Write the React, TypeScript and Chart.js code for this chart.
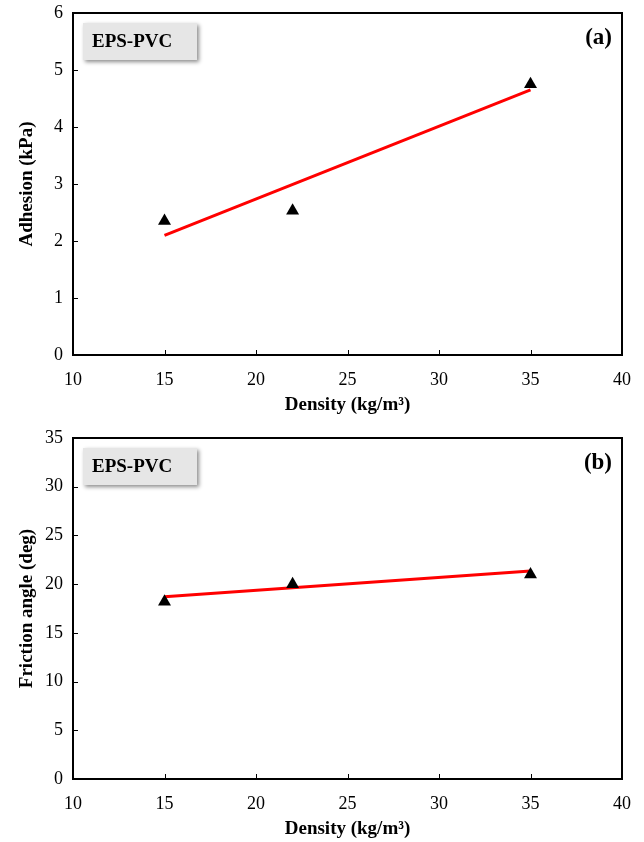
import React, { useEffect, useRef } from "react";
import { Chart, registerables } from "chart.js";

Chart.register(...registerables);

const densities = [15, 22, 35];
const adhesion = [2.35, 2.53, 4.75];
const frictionAngle = [18.2, 20.0, 21.0];
const fitX = [15, 35];
const adhesionFit = [2.1, 4.65];
const frictionFit = [18.7, 21.35];
const xTicks = [10, 15, 20, 25, 30, 35, 40];
const adhesionTicks = [0, 1, 2, 3, 4, 5, 6];
const frictionTicks = [0, 5, 10, 15, 20, 25, 30, 35];

const SERIF = "'Liberation Serif', 'Times New Roman', serif";

const framePlugin = {
  id: "frame",
  afterDraw(chart: any) {
    const { ctx, chartArea } = chart;
    const opts = chart.options.plugins.frame || {};
    ctx.save();
    // inside tick marks
    ctx.strokeStyle = "#000";
    ctx.lineWidth = 1;
    const xs = chart.scales.x;
    const ys = chart.scales.y;
    xs.ticks.forEach((t: any) => {
      const px = Math.round(xs.getPixelForValue(t.value)) + 0.5;
      ctx.beginPath();
      ctx.moveTo(px, chartArea.bottom);
      ctx.lineTo(px, chartArea.bottom - 5);
      ctx.stroke();
    });
    ys.ticks.forEach((t: any) => {
      const py = Math.round(ys.getPixelForValue(t.value)) + 0.5;
      ctx.beginPath();
      ctx.moveTo(chartArea.left, py);
      ctx.lineTo(chartArea.left + 5, py);
      ctx.stroke();
    });
    // frame
    ctx.lineWidth = 2;
    ctx.strokeRect(
      chartArea.left,
      chartArea.top,
      chartArea.right - chartArea.left,
      chartArea.bottom - chartArea.top
    );
    // legend-like label box
    const bx = chartArea.left + 10;
    const by = chartArea.top + 10;
    const bw = 114;
    const bh = 37;
    ctx.save();
    ctx.shadowColor = "rgba(0,0,0,0.45)";
    ctx.shadowBlur = 4;
    ctx.shadowOffsetX = 2;
    ctx.shadowOffsetY = 2;
    ctx.fillStyle = "#e6e6e6";
    ctx.fillRect(bx, by, bw, bh);
    ctx.restore();
    ctx.fillStyle = "#000";
    ctx.font = `bold 19px ${SERIF}`;
    ctx.textAlign = "left";
    ctx.textBaseline = "middle";
    ctx.fillText(opts.boxText || "", bx + 9, by + bh / 2 + 1);
    // panel label
    ctx.font = `bold 23px ${SERIF}`;
    ctx.textAlign = "right";
    ctx.fillText(opts.panel || "", chartArea.right - 10, chartArea.top + 25);
    ctx.restore();
  },
};

function makeConfig(
  pts: number[],
  fit: number[],
  yMax: number,
  yStep: number,
  yTitle: string,
  panel: string,
  xScaleHeight: number,
  topPad: number,
  xTitleBottom: number
): any {
  return {
    type: "scatter",
    data: {
      datasets: [
        {
          type: "line",
          data: fitX.map((x, i) => ({ x, y: fit[i] })),
          borderColor: "#ff0000",
          borderWidth: 3,
          pointRadius: 0,
          fill: false,
          order: 2,
        },
        {
          data: densities.map((x, i) => ({ x, y: pts[i] })),
          pointStyle: "triangle",
          pointRadius: 7.5,
          backgroundColor: "#000",
          borderColor: "#000",
          borderWidth: 0,
          order: 1,
        },
      ],
    },
    options: {
      animation: false,
      responsive: false,
      maintainAspectRatio: false,
      layout: { padding: { top: topPad, right: 22, left: 0, bottom: 0 } },
      plugins: {
        legend: { display: false },
        tooltip: { enabled: false },
        frame: { boxText: "EPS-PVC", panel },
      },
      scales: {
        x: {
          type: "linear",
          min: 10,
          max: 40,
          afterBuildTicks: (s: any) => {
            s.ticks = xTicks.map((v) => ({ value: v }));
          },
          grid: { display: false, drawTicks: false },
          border: { display: false },
          ticks: {
            color: "#000",
            font: { family: SERIF, size: 18 },
            padding: 14,
            maxRotation: 0,
          },
          title: {
            display: true,
            text: "Density (kg/m³)",
            color: "#000",
            font: { family: SERIF, size: 19, weight: "bold" },
            padding: { top: 0, bottom: xTitleBottom },
          },
          afterFit: (s: any) => {
            s.height = xScaleHeight;
            s.paddingLeft = 0;
            s.paddingRight = 0;
          },
        },
        y: {
          type: "linear",
          min: 0,
          max: yMax,
          afterBuildTicks: (s: any) => {
            const arr = yMax === 6 ? adhesionTicks : frictionTicks;
            s.ticks = arr.map((v) => ({ value: v }));
          },
          grid: { display: false, drawTicks: false },
          border: { display: false },
          ticks: {
            color: "#000",
            font: { family: SERIF, size: 18 },
            padding: 10,
            stepSize: yStep,
          },
          title: {
            display: true,
            text: yTitle,
            color: "#000",
            font: { family: SERIF, size: 19, weight: "bold" },
            padding: { top: 15.5, bottom: 0 },
          },
          afterFit: (s: any) => {
            s.width = 73;
            s.paddingTop = 0;
            s.paddingBottom = 0;
          },
        },
      },
    },
    plugins: [framePlugin],
  };
}

function Panel(props: { cfg: any; height: number }) {
  const ref = useRef<HTMLCanvasElement>(null);
  useEffect(() => {
    if (!ref.current) return;
    const chart = new Chart(ref.current, props.cfg);
    return () => chart.destroy();
  }, []);
  return (
    <canvas
      ref={ref}
      width={644}
      height={props.height}
      style={{ display: "block", width: 644, height: props.height }}
    />
  );
}

export default function App() {
  useEffect(() => {
    document.body.style.margin = "0";
    document.body.style.background = "#fff";
  }, []);
  const cfgA = makeConfig(adhesion, adhesionFit, 6, 1, "Adhesion (kPa)", "(a)", 66, 13, 5);
  const cfgB = makeConfig(frictionAngle, frictionFit, 35, 5, "Friction angle (deg)", "(b)", 63, 17, 2);
  return (
    <div style={{ position: "fixed", left: 0, top: 0, width: 644, height: 842, background: "#fff" }}>
      <Panel cfg={cfgA} height={421} />
      <Panel cfg={cfgB} height={421} />
    </div>
  );
}
